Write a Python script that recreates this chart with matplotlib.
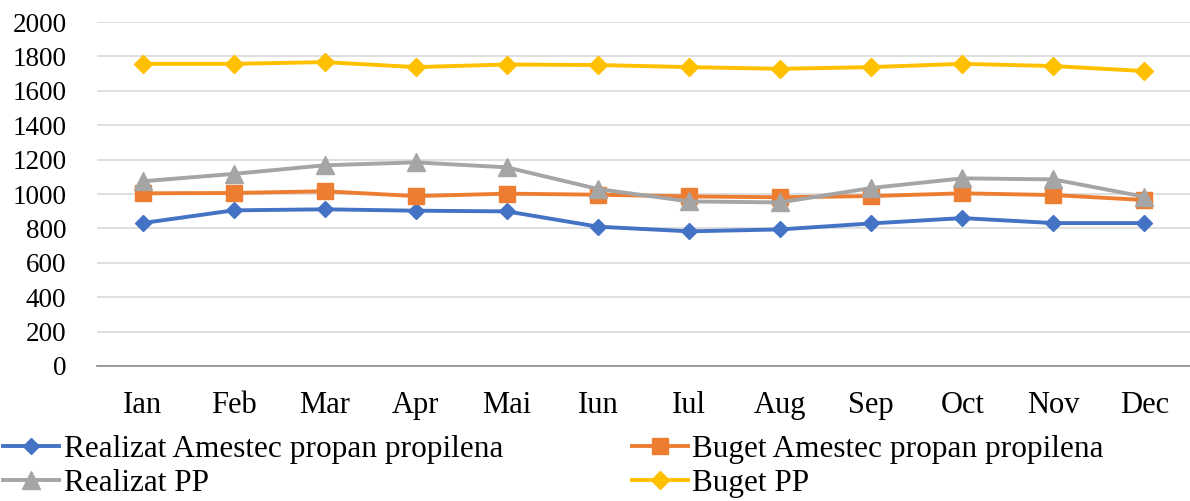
import matplotlib.pyplot as plt

months = ["Ian", "Feb", "Mar", "Apr", "Mai", "Iun", "Iul", "Aug", "Sep", "Oct", "Nov", "Dec"]
realizat_amestec = [831, 905, 911, 903, 899, 810, 783, 794, 829, 860, 831, 831]
buget_amestec = [1004, 1006, 1016, 988, 1002, 996, 986, 981, 988, 1004, 994, 965]
realizat_pp = [1074, 1117, 1167, 1184, 1155, 1029, 957, 951, 1035, 1091, 1085, 984]
buget_pp = [1757, 1757, 1767, 1738, 1753, 1750, 1738, 1728, 1738, 1757, 1744, 1715]

plt.rcParams["font.family"] = ["Liberation Serif", "DejaVu Serif"]

fig = plt.figure(figsize=(11.9, 5.01), dpi=100)
ax = fig.add_axes([0.0815, 0.2695, 0.9185, 0.6865])

x = range(len(months))
l1, = ax.plot(x, realizat_amestec, color="#4472C4", lw=2.8, marker="D", ms=8,
              label="Realizat Amestec propan propilena")
l2, = ax.plot(x, buget_amestec, color="#ED7D31", lw=2.8, marker="s", ms=11,
              label="Buget Amestec propan propilena")
l3, = ax.plot(x, realizat_pp, color="#A5A5A5", lw=2.8, marker="^", ms=13,
              label="Realizat PP")
l4, = ax.plot(x, buget_pp, color="#FFC000", lw=2.8, marker="D", ms=9.5,
              label="Buget PP")

ax.set_xlim(-0.5, len(months) - 0.5)
ax.set_ylim(0, 2000)
ax.set_yticks(range(0, 2001, 200))
ax.set_xticks(list(x))
ax.set_xticklabels(months)
ax.grid(axis="y", color="#D9D9D9", lw=1.2)
ax.set_axisbelow(True)
for s in ["top", "right", "left"]:
    ax.spines[s].set_visible(False)
ax.spines["bottom"].set_color("#8C8C8C")
ax.spines["bottom"].set_linewidth(1.2)
ax.tick_params(axis="both", length=0)
ax.tick_params(axis="x", pad=18, labelsize=22)
ax.tick_params(axis="y", pad=22, labelsize=19.5)

fig.legend([l1, l3, l2, l4], [l1.get_label(), l3.get_label(), l2.get_label(), l4.get_label()],
           ncol=2, loc="lower left", bbox_to_anchor=(0.0, 0.0), frameon=False,
           fontsize=22.5, handlelength=1.8, handletextpad=0.15, columnspacing=4.1,
           labelspacing=0.15, borderaxespad=0.0, borderpad=0.1)

fig.savefig("out.png", dpi=100)
